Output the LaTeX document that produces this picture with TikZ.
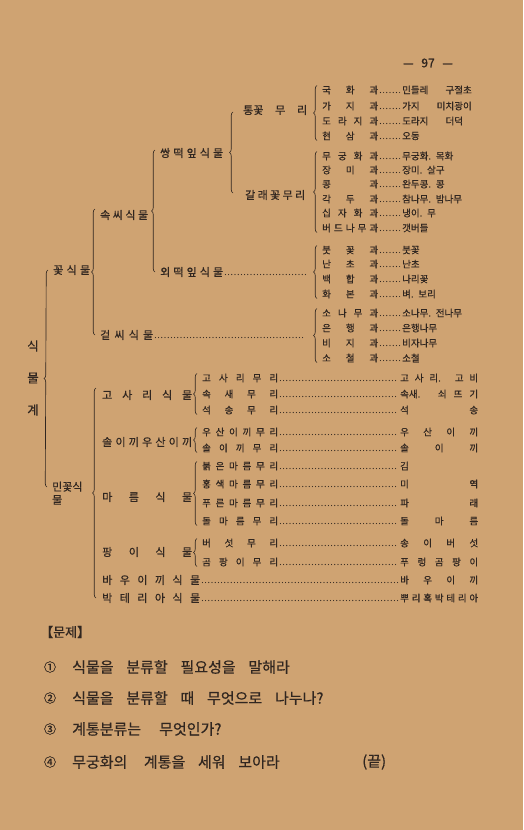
\documentclass[tikz,border=0pt]{standalone}
\usepackage{fontspec}
\setmainfont{Noto Sans CJK KR}[FakeBold=0.6]
\usetikzlibrary{decorations.pathreplacing,calc}
\definecolor{paper}{RGB}{207,163,114}
\definecolor{ink}{RGB}{48,38,32}
\newcommand\sprd[2]{\makebox[#1][s]{#2}}
\newcommand\wg{\hspace{0.85em}}
\tikzset{
  fam/.style={anchor=west, inner sep=0pt, text=ink, font=\fontsize{9.5}{11}\selectfont},
  hd/.style={anchor=west, inner sep=0pt, text=ink, font=\fontsize{11}{13}\selectfont},
  bigc/.style={anchor=center, inner sep=0pt, text=ink, font=\fontsize{12.5}{14}\selectfont},
  qs/.style={anchor=west, inner sep=0pt, text=ink, font=\fontsize{15}{17}\selectfont},
  brc/.style={draw=ink, line width=0.65pt, decorate, decoration={brace, amplitude=3.5pt}},
  ldr/.style={draw=ink, line width=1.2pt, line cap=round, dash pattern=on 0pt off 3.2pt, shorten <=2pt, shorten >=1.5pt}
}
\begin{document}
\begin{tikzpicture}[x=1pt,y=-1pt]
\fill[paper] (0,0) rectangle (523,830);
\useasboundingbox (0,0) rectangle (523,830);

% page number
\node[anchor=center, inner sep=0pt, text=ink, font=\fontsize{12}{14}\selectfont] (pg) at (428,63) {\sprd{50pt}{— 97 —}};

% family column
\node[fam] (f1) at (322,90) {\sprd{56pt}{국 화 과}};
\node[fam] (f2) at (322,106) {\sprd{56pt}{가 지 과}};
\node[fam] (f3) at (322,121) {\sprd{56pt}{도 라 지 과}};
\node[fam] (f4) at (322,136) {\sprd{56pt}{현 삼 과}};
\node[fam] (f5) at (322,156) {\sprd{56pt}{무 궁 화 과}};
\node[fam] (f6) at (322,170) {\sprd{56pt}{장 미 과}};
\node[fam] (f7) at (322,184) {\sprd{56pt}{콩 과}};
\node[fam] (f8) at (322,199) {\sprd{56pt}{각 두 과}};
\node[fam] (f9) at (322,213) {\sprd{56pt}{십 자 화 과}};
\node[fam] (f10) at (322,228) {\sprd{56pt}{버 드 나 무 과}};
\node[fam] (f11) at (322,250) {\sprd{56pt}{붓 꽃 과}};
\node[fam] (f12) at (322,264) {\sprd{56pt}{난 초 과}};
\node[fam] (f13) at (322,279) {\sprd{56pt}{백 합 과}};
\node[fam] (f14) at (322,294) {\sprd{56pt}{화 본 과}};
\node[fam] (f15) at (322,313) {\sprd{56pt}{소 나 무 과}};
\node[fam] (f16) at (322,328) {\sprd{56pt}{은 행 과}};
\node[fam] (f17) at (322,343) {\sprd{56pt}{비 지 과}};
\node[fam] (f18) at (322,358) {\sprd{56pt}{소 철 과}};

\node[fam] (v1) at (402,90) {민들레\hspace{1.8em}구절초};
\node[fam] (v2) at (402,106) {가지\hspace{1.8em}미치광이};
\node[fam] (v3) at (402,121) {도라지\hspace{1.8em}더덕};
\node[fam] (v4) at (402,136) {오동};
\node[fam] (v5) at (402,156) {무궁화.\hspace{0.5em}목화};
\node[fam] (v6) at (402,170) {장미.\hspace{0.5em}살구};
\node[fam] (v7) at (402,184) {완두콩.\hspace{0.5em}콩};
\node[fam] (v8) at (402,199) {참나무.\hspace{0.5em}밤나무};
\node[fam] (v9) at (402,213) {냉이.\hspace{0.5em}무};
\node[fam] (v10) at (402,228) {갯버들};
\node[fam] (v11) at (402,250) {붓꽃};
\node[fam] (v12) at (402,264) {난초};
\node[fam] (v13) at (402,279) {나리꽃};
\node[fam] (v14) at (402,294) {벼.\hspace{0.5em}보리};
\node[fam] (v15) at (402,313) {소나무.\hspace{0.5em}전나무};
\node[fam] (v16) at (402,328) {은행나무};
\node[fam] (v17) at (402,343) {비자나무};
\node[fam] (v18) at (402,358) {소철};

\foreach \i in {1,...,18} {
  \draw[ldr] ([yshift=-2.5pt]f\i.east) -- ([yshift=-2.5pt]v\i.west);
}

% headings of seed plants
\node[hd] (tk) at (243,110) {\sprd{64pt}{통꽃 무 리}};
\node[hd] (gr) at (245,195) {\sprd{60pt}{갈 래 꽃 무 리}};
\node[hd] (sd) at (160,153) {\sprd{63pt}{쌍 떡 잎 식 물}};
\node[hd] (od) at (160,272) {\sprd{63pt}{외 떡 잎 식 물}};
\node[hd] (ss) at (100,215) {\sprd{48pt}{속 씨 식 물}};
\node[hd] (gt) at (100,335) {\sprd{53pt}{겉 씨 식 물}};
\node[hd] (kk) at (53,270) {\sprd{37pt}{꽃 식 물}};
\coordinate (odE) at (307,272);
\coordinate (gtE) at (307,335);
\draw[ldr] ([yshift=-2.5pt]od.east) -- ([yshift=-2.5pt]odE);
\draw[ldr] ([yshift=-2.5pt]gt.east) -- ([yshift=-2.5pt]gtE);

% kingdom
\node[bigc] (k1) at (33,346) {식};
\node[bigc] (k2) at (33,378) {물};
\node[bigc] (k3) at (33,410) {계};

% non-flowering plants
\node[hd, anchor=north west, align=left] (mk) at (52,481.5) {민꽃식\\물};
\coordinate (mkc) at ([yshift=-5.5pt]mk.north west);

\node[hd] (gsr) at (102,395) {\sprd{90pt}{고 사 리 식 물}};
\node[hd] (sl) at (102,442) {\sprd{90pt}{솔 이 끼 우 산 이 끼}};
\node[hd] (mr) at (102,497) {\sprd{90pt}{마 름 식 물}};
\node[hd] (py) at (102,552) {\sprd{90pt}{팡 이 식 물}};
\node[hd] (bu) at (102,580) {\sprd{98pt}{바 우 이 끼 식 물}};
\node[hd] (bt) at (102,598) {\sprd{98pt}{박 테 리 아 식 물}};

\node[fam] (g1) at (202,378) {\sprd{76pt}{고 사 리 무 리}};
\node[fam] (g2) at (202,394) {\sprd{76pt}{속 새 무 리}};
\node[fam] (g3) at (202,410) {\sprd{76pt}{석 송 무 리}};
\node[fam] (g4) at (202,432) {\sprd{76pt}{우 산 이 끼 무 리}};
\node[fam] (g5) at (202,448) {\sprd{76pt}{솔 이 끼 무 리}};
\node[fam] (g6) at (202,466) {\sprd{76pt}{붉 은 마 름 무 리}};
\node[fam] (g7) at (202,484) {\sprd{76pt}{홍 색 마 름 무 리}};
\node[fam] (g8) at (202,503) {\sprd{76pt}{푸 른 마 름 무 리}};
\node[fam] (g9) at (202,521) {\sprd{76pt}{돌 마 름 무 리}};
\node[fam] (g10) at (202,543) {\sprd{76pt}{버 섯 무 리}};
\node[fam] (g11) at (202,562) {\sprd{76pt}{곰 팡 이 무 리}};

\node[fam] (w1) at (400,378) {\sprd{78pt}{고 사 리. 고 비}};
\node[fam] (w2) at (400,394) {\sprd{78pt}{속새. 쇠 뜨 기}};
\node[fam] (w3) at (400,410) {\sprd{78pt}{석 송}};
\node[fam] (w4) at (400,432) {\sprd{78pt}{우 산 이 끼}};
\node[fam] (w5) at (400,448) {\sprd{78pt}{솔 이 끼}};
\node[fam] (w6) at (400,466) {김};
\node[fam] (w7) at (400,484) {\sprd{78pt}{미 역}};
\node[fam] (w8) at (400,503) {\sprd{78pt}{파 래}};
\node[fam] (w9) at (400,521) {\sprd{78pt}{돌 마 름}};
\node[fam] (w10) at (400,543) {\sprd{78pt}{송 이 버 섯}};
\node[fam] (w11) at (400,562) {\sprd{78pt}{푸 렁 곰 팡 이}};
\node[fam] (w12) at (400,580) {\sprd{78pt}{바 우 이 끼}};
\node[fam] (w13) at (400,598) {\sprd{78pt}{뿌 리 혹 박 테 리 아}};

\foreach \i in {1,...,11} {
  \draw[ldr] ([yshift=-2.5pt]g\i.east) -- ([yshift=-2.5pt]w\i.west);
}
\draw[ldr] ([yshift=-2.5pt]bu.east) -- ([yshift=-2.5pt]w12.west);
\draw[ldr] ([yshift=-2.5pt]bt.east) -- ([yshift=-2.5pt]w13.west);

% braces
\draw[brc] ([xshift=-5pt]f4.south west) -- ([xshift=-5pt]f1.north west);
\draw[brc] ([xshift=-5pt]f10.south west) -- ([xshift=-5pt]f5.north west);
\draw[brc] ([xshift=-5pt]f14.south west) -- ([xshift=-5pt]f11.north west);
\draw[brc] ([xshift=-5pt]f18.south west) -- ([xshift=-5pt]f15.north west);
\draw[brc] ([xshift=-12pt,yshift=2pt]gr.west) -- ([xshift=-10pt,yshift=-2pt]tk.west);
\draw[brc] ([xshift=-5pt]od.west) -- ([xshift=-5pt,yshift=3pt]sd.west);
\draw[brc] ([xshift=-5pt]gt.west) -- ([xshift=-5pt,yshift=6pt]ss.west);
\draw[brc] ([xshift=-5pt]mkc) -- ([xshift=-5pt]kk.west);
\draw[brc] ([xshift=-6pt]bt.west) -- ([xshift=-6pt,yshift=7pt]gsr.west);
\draw[brc] ([xshift=-5pt]g3.south west) -- ([xshift=-5pt]g1.north west);
\draw[brc] ([xshift=-5pt]g5.south west) -- ([xshift=-5pt]g4.north west);
\draw[brc] ([xshift=-5pt]g9.south west) -- ([xshift=-5pt]g6.north west);
\draw[brc] ([xshift=-5pt]g11.south west) -- ([xshift=-5pt]g10.north west);

% questions
\node[anchor=west, inner sep=0pt, text=ink, font=\fontsize{13}{15}\selectfont] (mj) at (40,632) {【문제】};
\node[bigc, font=\fontsize{12}{14}\selectfont] (c1) at (50,667) {①};
\node[bigc, font=\fontsize{12}{14}\selectfont] (c2) at (50,698) {②};
\node[bigc, font=\fontsize{12}{14}\selectfont] (c3) at (50,729) {③};
\node[bigc, font=\fontsize{12}{14}\selectfont] (c4) at (50,762) {④};
\node[qs] (q1) at (72,667) {식물을\wg 분류할\wg 필요성을\wg 말해라};
\node[qs] (q2) at (72,698) {식물을\wg 분류할\wg 때\wg 무엇으로\wg 나누나?};
\node[qs] (q3) at (72,729) {계통분류는\hspace{1.2em}무엇인가?};
\node[qs] (q4) at (72,762) {무궁화의\hspace{1.1em}계통을\wg 세워\wg 보아라};
\node[qs] (end) at (362,762) {(끝)};
\end{tikzpicture}
\end{document}
